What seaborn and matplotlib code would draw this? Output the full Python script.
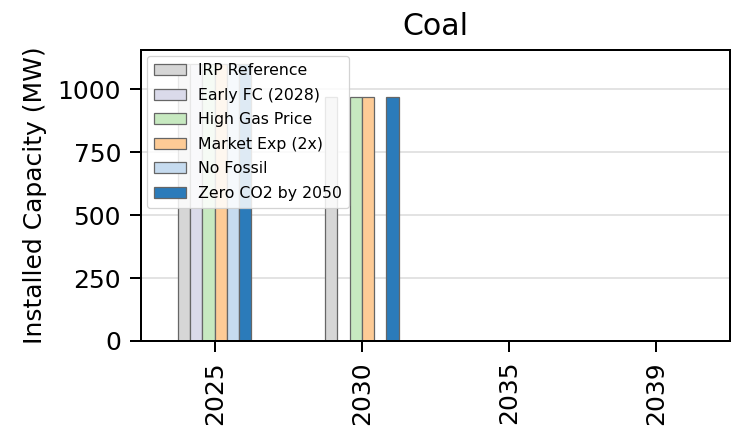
import matplotlib
matplotlib.use("Agg")
import matplotlib.pyplot as plt
import seaborn as sns
import pandas as pd

# Installed coal capacity by scenario and year
years = ["2025", "2030", "2035", "2039"]
scenarios = ["IRP Reference", "Early FC (2028)", "High Gas Price",
             "Market Exp (2x)", "No Fossil", "Zero CO2 by 2050"]
capacity = {
    "IRP Reference":    [1100, 970, 0, 0],
    "Early FC (2028)":  [1100, 0, 0, 0],
    "High Gas Price":   [1100, 970, 0, 0],
    "Market Exp (2x)":  [1100, 970, 0, 0],
    "No Fossil":        [1100, 0, 0, 0],
    "Zero CO2 by 2050": [1100, 970, 0, 0],
}
colors = ["#d6d6d6", "#dadaea", "#c7e9c0", "#fdcb96", "#c6dbef", "#2b7bba"]

rows = []
for s in scenarios:
    for y, v in zip(years, capacity[s]):
        rows.append({"Year": y, "Scenario": s, "MW": v})
df = pd.DataFrame(rows)

plt.rcParams["font.family"] = ["DejaVu Sans"]

fig = plt.figure(figsize=(731 / 180, 435 / 180), dpi=180)
ax = fig.add_axes([141 / 731, 94 / 435, (730 - 141) / 731, 291 / 435])

sns.barplot(data=df, x="Year", y="MW", hue="Scenario", order=years,
            hue_order=scenarios, palette=colors, saturation=1,
            errorbar=None, width=0.5, gap=0, edgecolor="#666666",
            linewidth=0.5, ax=ax)

ax.set_title("Coal", fontsize=12, pad=6)
ax.set_xlabel("")
ax.set_ylabel("Installed Capacity (MW)", fontsize=10)
ax.set_yticks([0, 250, 500, 750, 1000])
ax.tick_params(axis="both", labelsize=10, length=4.5, width=0.8, pad=3.5)
ax.tick_params(axis="x", rotation=90)
ax.yaxis.grid(True, color="#e3e3e3", linewidth=0.8)
ax.xaxis.grid(False)
ax.set_axisbelow(True)
for sp in ax.spines.values():
    sp.set_color("black")
    sp.set_linewidth(0.8)

leg = ax.legend(loc="upper left", fontsize=6.3, labelspacing=0.6,
                framealpha=0.85, borderaxespad=0.4, borderpad=0.45)
leg.get_frame().set_linewidth(0.5)

fig.savefig("out.png", dpi=180)
